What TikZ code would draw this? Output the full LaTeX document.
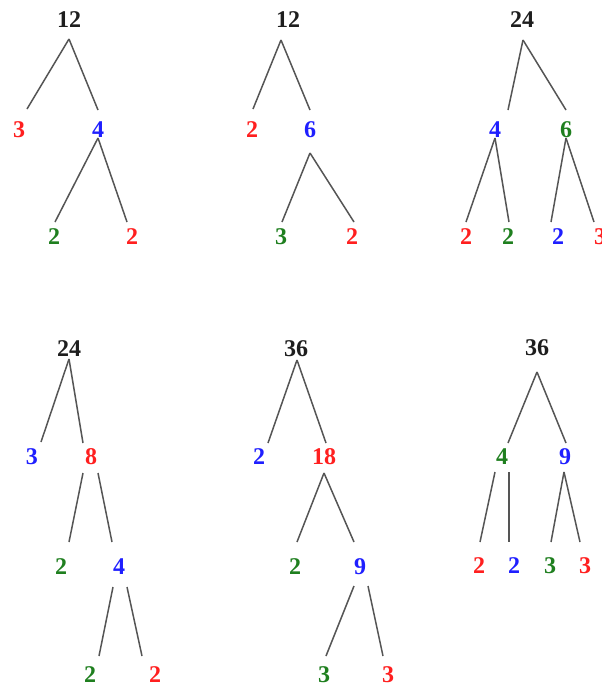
\documentclass[tikz,border=0pt]{standalone}
\usepackage{fontspec}
\setmainfont{Liberation Serif}
\usetikzlibrary{calc}
\usepackage{xcolor}
\definecolor{FacRed}{HTML}{FF1F1F}
\definecolor{FacBlue}{HTML}{1F1FFF}
\definecolor{FacGreen}{HTML}{1F7F1F}
\definecolor{FacBlack}{HTML}{1E1E1E}
\definecolor{StemGray}{HTML}{555555}
\newcommand{\branchto}[4]{\draw[branch] ($(#1.center)+(#2)$) -- ($(#3.center)+(#4)$);}

\begin{document}
\begin{tikzpicture}[x=1pt,y=-1pt,
    num/.style={font=\bfseries\fontsize{24}{24}\selectfont,inner sep=0pt},
    branch/.style={draw=StemGray,line width=1.5pt}]
    \useasboundingbox (0,0) rectangle (602,689);
    % 12 = 3 x 2 x 2
    \node[num,text=FacBlack] (ta) at (69,20) {12};
    \node[num,text=FacRed] (tal) at (19,130) {3};
    \node[num,text=FacBlue] (tar) at (98,130) {4};
    \node[num,text=FacGreen] (tarl) at (54,237) {2};
    \node[num,text=FacRed] (tarr) at (132,237) {2};
    \branchto{ta}{0,19}{tal}{8,-21}
    \branchto{ta}{0,19}{tar}{0,-20}
    \branchto{tar}{0,8}{tarl}{1,-15}
    \branchto{tar}{0,8}{tarr}{-5,-15}
    % 12 = 2 x 3 x 2
    \node[num,text=FacBlack] (tb) at (288,20) {12};
    \node[num,text=FacRed] (tbl) at (252,130) {2};
    \node[num,text=FacBlue] (tbr) at (310,130) {6};
    \node[num,text=FacGreen] (tbrl) at (281,237) {3};
    \node[num,text=FacRed] (tbrr) at (352,237) {2};
    \branchto{tb}{-7,20}{tbl}{1,-21}
    \branchto{tb}{-7,20}{tbr}{0,-20}
    \branchto{tbr}{0,23}{tbrl}{1,-15}
    \branchto{tbr}{0,23}{tbrr}{2,-15}
    % 24 = 2 x 2 x 2 x 3
    \node[num,text=FacBlack] (tc) at (522,20) {24};
    \node[num,text=FacBlue] (tcl) at (495,130) {4};
    \node[num,text=FacGreen] (tcr) at (566,130) {6};
    \node[num,text=FacRed] (tcll) at (466,237) {2};
    \node[num,text=FacGreen] (tclr) at (508,237) {2};
    \node[num,text=FacBlue] (tcrl) at (558,237) {2};
    \node[num,text=FacRed] (tcrr) at (600,237) {3};
    \branchto{tc}{1,20}{tcl}{13,-20}
    \branchto{tc}{1,20}{tcr}{0,-20}
    \branchto{tcl}{0,8}{tcll}{0,-15}
    \branchto{tcl}{0,8}{tclr}{1,-15}
    \branchto{tcr}{0,8}{tcrl}{-7,-15}
    \branchto{tcr}{0,8}{tcrr}{-6,-15}
    % 24 = 3 x 2 x 2 x 2
    \node[num,text=FacBlack] (td) at (69,349) {24};
    \node[num,text=FacBlue] (tdl) at (32,457) {3};
    \node[num,text=FacRed] (tdr) at (91,457) {8};
    \node[num,text=FacGreen] (tdrl) at (61,567) {2};
    \node[num,text=FacBlue] (tdrr) at (119,567) {4};
    \node[num,text=FacGreen] (tdrrl) at (90,675) {2};
    \node[num,text=FacRed] (tdrrr) at (155,675) {2};
    \branchto{td}{0,10}{tdl}{9,-15}
    \branchto{td}{0,10}{tdr}{-8,-14}
    \branchto{tdr}{-8,16}{tdrl}{8,-25}
    \branchto{tdr}{7,16}{tdrr}{-7,-25}
    \branchto{tdrr}{-6,20}{tdrrl}{9,-19}
    \branchto{tdrr}{8,20}{tdrrr}{-13,-19}
    % 36 = 2 x 2 x 3 x 3
    \node[num,text=FacBlack] (te) at (296,349) {36};
    \node[num,text=FacBlue] (tel) at (259,457) {2};
    \node[num,text=FacRed] (ter) at (324,457) {18};
    \node[num,text=FacGreen] (terl) at (295,567) {2};
    \node[num,text=FacBlue] (terr) at (360,567) {9};
    \node[num,text=FacGreen] (terrl) at (324,675) {3};
    \node[num,text=FacRed] (terrr) at (388,675) {3};
    \branchto{te}{1,11}{tel}{9,-14}
    \branchto{te}{1,11}{ter}{2,-14}
    \branchto{ter}{0,16}{terl}{2,-25}
    \branchto{ter}{0,16}{terr}{-6,-25}
    \branchto{terr}{-6,19}{terrl}{2,-19}
    \branchto{terr}{8,19}{terrr}{-5,-19}
    % 36 = 2 x 2 x 3 x 3, other way
    \node[num,text=FacBlack] (tf) at (537,348) {36};
    \node[num,text=FacGreen] (tfl) at (502,457) {4};
    \node[num,text=FacBlue] (tfr) at (565,457) {9};
    \node[num,text=FacRed] (tfll) at (479,566) {2};
    \node[num,text=FacBlue] (tflr) at (514,566) {2};
    \node[num,text=FacGreen] (tfrl) at (550,566) {3};
    \node[num,text=FacRed] (tfrr) at (585,566) {3};
    \branchto{tf}{0,24}{tfl}{6,-14}
    \branchto{tf}{0,24}{tfr}{1,-14}
    \branchto{tfl}{-7,15}{tfll}{1,-24}
    \branchto{tfl}{7,15}{tflr}{-5,-24}
    \branchto{tfr}{-1,15}{tfrl}{1,-24}
    \branchto{tfr}{-1,15}{tfrr}{-5,-24}
  \end{tikzpicture}
\end{document}
